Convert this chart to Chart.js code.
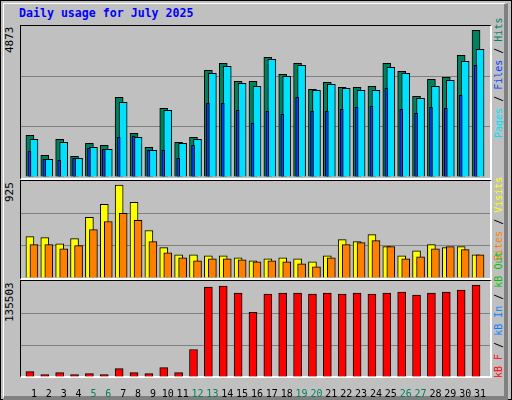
<!DOCTYPE html>
<html><head><meta charset="utf-8">
<script src="https://cdn.jsdelivr.net/npm/chart.js@4"></script>
<style>
body{margin:0;width:512px;height:400px;overflow:hidden;background:#fff;}
#wrap{position:absolute;left:0;top:0;width:510px;height:398px;border:1px solid #000;background:#c0c0c0;}
#bevel{position:absolute;left:2px;top:2px;width:500px;height:392px;border-right:4px solid #808080;border-bottom:4px solid #808080;border-top:1px solid #fff;border-left:1px solid #fff;}
.panel{position:absolute;left:20px;width:469px;border-top:1px solid #000;border-left:1px solid #000;border-right:2px solid #fff;border-bottom:2px solid #fff;}
.cv{position:absolute;left:21px;}
.vt{position:absolute;writing-mode:vertical-rl;transform:rotate(180deg);font-family:"DejaVu Sans Mono",monospace;font-size:10px;white-space:nowrap;}
#title{position:absolute;left:19px;top:6px;font-family:"DejaVu Sans Mono",monospace;font-weight:bold;font-size:11.6px;color:#0000ff;}
</style></head><body>
<div id="wrap"><div id="bevel"></div></div>
<div id="title">Daily usage for July 2025</div>
<div class="panel" style="top:25px;height:152px"></div>
<div class="panel" style="top:180px;height:97px"></div>
<div class="panel" style="top:280px;height:95px"></div>
<div class="vt" style="left:3px;top:27px;height:40px;text-align:end;font-size:11px">4873</div>
<div class="vt" style="left:3px;top:182px;height:30px;text-align:end;font-size:11px">925</div>
<div class="vt" style="left:3px;top:282px;height:50px;text-align:end;font-size:11px">135503</div>
<div class="vt" style="left:493px;top:28px;height:110px;text-align:end"><span style="color:#00e0ff">Pages</span> / <span style="color:#0040ff">Files</span> / <span style="color:#00805c">Hits</span></div>
<div class="vt" style="left:493px;top:177px;height:100px;text-align:end"><span style="color:#ff8000">Sites</span> / <span style="color:#ffff00">Visits</span></div>
<div class="vt" style="left:493px;top:276px;height:102px;text-align:start"><span style="color:#ff0000">kB F</span> / <span style="color:#0080ff">kB In</span> / <span style="color:#00c000">kB Out</span></div>
<canvas id="c1" class="cv" style="top:26px"></canvas>
<canvas id="c2" class="cv" style="top:181px"></canvas>
<canvas id="c3" class="cv" style="top:281px"></canvas>
<script>
const days=[1,2,3,4,5,6,7,8,9,10,11,12,13,14,15,16,17,18,19,20,21,22,23,24,25,26,27,28,29,30,31];
const weekend=[5,6,12,13,19,20,26,27];
const hits=[1345,700,1216,667,1086,1022,2571,1409,957,2216,1119,1280,3442,3668,3087,3087,3861,3313,3668,2829,3055,2893,2893,2925,3668,3410,2603,3152,3216,3926,4733];
const files=[1216,570,1119,602,957,893,2409,1280,860,2151,1086,1216,3345,3571,3022,2925,3797,3249,3604,2797,2990,2861,2797,2797,3539,3345,2539,2925,3119,3733,4120];
const pages=[839,570,538,602,925,893,1280,1323,860,860,602,1022,2377,2377,2151,1732,2119,2022,2571,2119,2119,2184,2248,2280,2861,2184,2055,2248,2216,2635,3603];
const visits=[395,385,327,376,578,703,886,722,453,289,221,221,212,212,193,164,183,193,183,154,212,366,347,414,299,212,260,318,289,299,221];
const sites=[318,318,279,308,462,539,616,549,347,241,193,164,183,183,173,154,164,154,135,106,193,318,337,356,299,183,202,279,299,270,221];
const kbF=[7580,3317,6160,3317,4738,3317,11845,6160,4738,13266,6160,38852,126978,128400,118450,91443,117029,118450,118450,117029,118450,117029,118450,117029,118450,119871,115607,118450,119871,122714,129821];
const maxTop=4873, maxMid=925, maxBot=135503;

const pts=(arr,off)=>arr.map((v,i)=>({x:days[i]+off,y:v}));
const ds=(arr,off,color,w,ord)=>({data:pts(arr,off),backgroundColor:color,borderColor:'#000',borderWidth:1,barThickness:w,borderSkipped:'bottom',order:ord});
function mk(id,h,datasets,max,showX){
  const cv=document.getElementById(id);
  cv.width=469;cv.height=h;cv.style.width='469px';cv.style.height=h+'px';
  return new Chart(cv,{type:'bar',data:{datasets},options:{
    responsive:false,animation:false,devicePixelRatio:1,
    layout:{padding:0},
    plugins:{legend:{display:false},tooltip:{enabled:false}},
    datasets:{bar:{grouped:false}},
    scales:{
      x:{type:'linear',min:0.13,max:31.67,display:showX,offset:false,
        grid:{display:false},border:{display:false},
        afterBuildTicks:s=>{s.ticks=days.map(d=>({value:d}));},
        afterFit:s=>{s.height=showX?20:0;},
        ticks:{autoSkip:false,maxRotation:0,padding:3,font:{family:'DejaVu Sans Mono',size:10},
          color:c=>weekend.includes(c.tick.value)?'#00805c':'#000',
          callback:v=>String(v)}},
      y:{min:0,max:max,display:true,
        afterBuildTicks:s=>{s.ticks=[0,1,2,3].map(k=>({value:max*k/3}));},
        afterFit:s=>{s.width=0;},
        grid:{color:c=>(c.index===1||c.index===2)?'#808080':'rgba(0,0,0,0)',lineWidth:1,drawTicks:false},
        border:{display:false},ticks:{display:false}}
    }}});
}
mk('c1',151,[ds(hits,-0.27,'#00805c',8,3),ds(files,0,'#00e0ff',8,2),ds(pages,-0.3,'#0040ff',3,1)],maxTop,false);
mk('c2',97,[ds(visits,-0.27,'#ffff00',8,2),ds(sites,0,'#ff8000',8,1)],maxMid,false);
mk('c3',116,[ds(kbF,-0.27,'#ff0000',8,1)],maxBot,true);
</script></body></html>
